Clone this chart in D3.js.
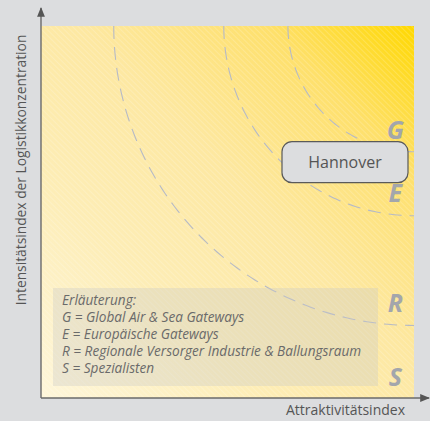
<!DOCTYPE html>
<html>
<head>
<meta charset="utf-8">
<script src="https://cdn.jsdelivr.net/npm/d3@7"></script>
<style>
  body { margin: 0; background: #dcdddf; }
  svg { display: block; font-family: "Open Sans", sans-serif; }
</style>
</head>
<body>
<svg id="chart" width="430" height="421"></svg>
<script>
// zone boundaries (radius from the top-right corner, in axis units)
var boundaryRadii = [0.805, 0.51, 0.338]
var zoneLabels = ["G", "E", "R", "S"]
var zoneLabelY = [0.72, 0.55, 0.255, 0.055]
var cities = ["Hannover"]
var cityX = [0.815]
var cityY = [0.634]
var legendLines = [
  "Erläuterung:",
  "G = Global Air & Sea Gateways",
  "E = Europäische Gateways",
  "R = Regionale Versorger Industrie & Ballungsraum",
  "S = Spezialisten"
]
var xTitle = "Attraktivitätsindex"
var yTitle = "Intensitätsindex der Logistikkonzentration"

var svg = d3.select("#chart")
var plotL = 41, plotR = 414, plotT = 26, plotB = 398

var x = d3.scaleLinear().domain([0, 1]).range([plotL, plotR])
var y = d3.scaleLinear().domain([0, 1]).range([plotB, plotT])

var defs = svg.append("defs")
var grad = defs.append("linearGradient")
  .attr("id", "bg")
  .attr("x1", "0%").attr("y1", "100%")
  .attr("x2", "100%").attr("y2", "0%")
grad.append("stop").attr("offset", "0%").attr("stop-color", "#fef6da")
grad.append("stop").attr("offset", "30%").attr("stop-color", "#fdedb6")
grad.append("stop").attr("offset", "55%").attr("stop-color", "#fde8a2")
grad.append("stop").attr("offset", "80%").attr("stop-color", "#fee06c")
grad.append("stop").attr("offset", "100%").attr("stop-color", "#ffd800")

var hatch = defs.append("pattern")
  .attr("id", "hatch")
  .attr("width", 4).attr("height", 4)
  .attr("patternUnits", "userSpaceOnUse")
  .attr("patternTransform", "rotate(-45)")
hatch.append("line")
  .attr("x1", 0).attr("y1", 0).attr("x2", 0).attr("y2", 4)
  .attr("stroke", "#ffffff").attr("stroke-width", 1).attr("stroke-opacity", 0.35)

defs.append("clipPath").attr("id", "plotclip")
  .append("rect")
  .attr("x", plotL).attr("y", plotT)
  .attr("width", plotR - plotL).attr("height", plotB - plotT)

// plot background
svg.append("rect")
  .attr("x", plotL).attr("y", plotT)
  .attr("width", plotR - plotL).attr("height", plotB - plotT)
  .attr("fill", "url(#bg)")
svg.append("rect")
  .attr("x", plotL).attr("y", plotT)
  .attr("width", plotR - plotL).attr("height", plotB - plotT)
  .attr("fill", "url(#hatch)")

// dashed zone boundaries
var arcLine = d3.line()
  .x(function(d) { return x(d[0]) })
  .y(function(d) { return y(d[1]) })

var plot = svg.append("g").attr("clip-path", "url(#plotclip)")
plot.selectAll("path.zone")
  .data(boundaryRadii)
  .enter()
  .append("path")
  .attr("class", "zone")
  .attr("d", function(r) {
    var pts = d3.range(0, 91).map(function(a) {
      var t = a * Math.PI / 180
      return [1 - r * Math.cos(t), 1 - r * Math.sin(t)]
    })
    return arcLine(pts)
  })
  .attr("fill", "none")
  .attr("stroke", "#b6bac6")
  .attr("stroke-width", 1.1)
  .attr("stroke-dasharray", "13,8")

// legend box
var lg = svg.append("g")
lg.append("rect")
  .attr("x", 53).attr("y", 288)
  .attr("width", 325).attr("height", 98)
  .attr("fill", "#c8c8c8").attr("fill-opacity", 0.33)
lg.selectAll("text")
  .data(legendLines)
  .enter()
  .append("text")
  .attr("x", 62)
  .attr("y", function(d, i) { return 305 + i * 17 })
  .attr("font-size", 13.6)
  .attr("font-style", "italic")
  .attr("fill", "#6a6a6a")
  .text(function(d) { return d })

// zone letters
svg.selectAll("text.zl")
  .data(zoneLabels)
  .enter()
  .append("text")
  .attr("class", "zl")
  .attr("x", x(0.95))
  .attr("y", function(d, i) { return y(zoneLabelY[i]) })
  .attr("dy", "0.35em")
  .attr("text-anchor", "middle")
  .attr("font-size", 25)
  .attr("font-weight", "bold")
  .attr("font-style", "italic")
  .attr("fill", "#a3a6ac")
  .text(function(d) { return d })

// city box
var city = svg.selectAll("g.city")
  .data(cities)
  .enter()
  .append("g")
  .attr("class", "city")
  .attr("transform", function(d, i) { return "translate(" + x(cityX[i]) + "," + y(cityY[i]) + ")" })
city.append("rect")
  .attr("x", -63).attr("y", -20.5)
  .attr("width", 126).attr("height", 41)
  .attr("rx", 10).attr("ry", 10)
  .attr("fill", "#dcdddf")
  .attr("stroke", "#5a5a5a")
  .attr("stroke-width", 1.2)
city.append("text")
  .attr("text-anchor", "middle")
  .attr("dy", "0.35em")
  .attr("font-size", 16)
  .attr("fill", "#555")
  .text(function(d) { return d })

// axes with arrows
defs.append("marker")
  .attr("id", "arrow")
  .attr("viewBox", "0 0 10 10")
  .attr("refX", 9).attr("refY", 5)
  .attr("markerWidth", 7).attr("markerHeight", 7)
  .attr("orient", "auto")
  .append("path")
  .attr("d", "M0,1 L10,5 L0,9 Z")
  .attr("fill", "#555")

svg.append("line")
  .attr("x1", plotL).attr("y1", plotB).attr("x2", plotL).attr("y2", 8)
  .attr("stroke", "#6a6a6a").attr("stroke-width", 1.4)
  .attr("marker-end", "url(#arrow)")
svg.append("line")
  .attr("x1", plotL).attr("y1", plotB).attr("x2", 429).attr("y2", plotB)
  .attr("stroke", "#6a6a6a").attr("stroke-width", 1.4)
  .attr("marker-end", "url(#arrow)")

svg.append("text")
  .attr("x", 405).attr("y", 415)
  .attr("text-anchor", "end")
  .attr("font-size", 14)
  .attr("fill", "#555")
  .text(xTitle)

svg.append("text")
  .attr("transform", "translate(26,170) rotate(-90)")
  .attr("text-anchor", "middle")
  .attr("font-size", 13.8)
  .attr("fill", "#555")
  .text(yTitle)
</script>
</body>
</html>
